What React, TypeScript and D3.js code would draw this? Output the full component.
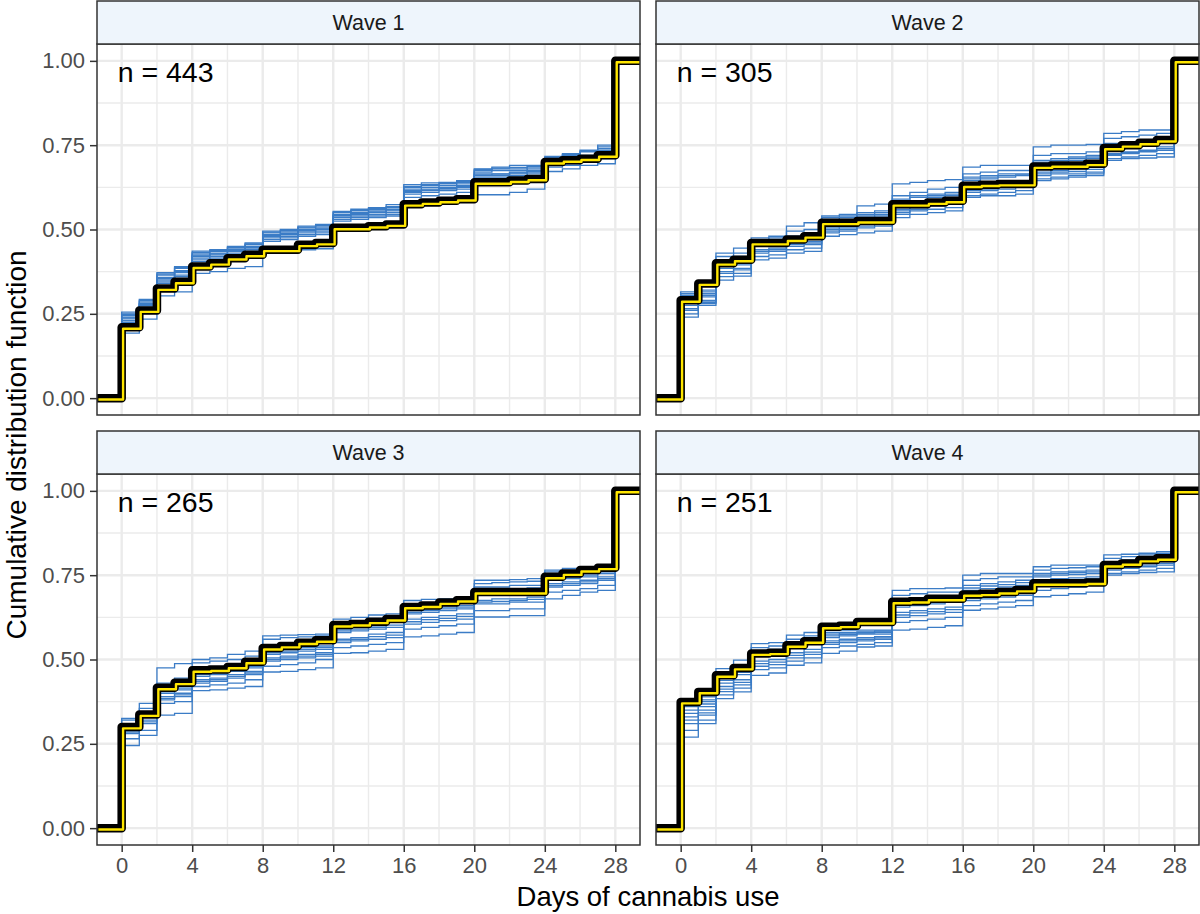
import React, { useEffect, useRef } from "react";
import * as d3 from "d3";

// Days on the x axis (0 - 28)
const days = [0, 1, 2, 3, 4, 5, 6, 7, 8, 9, 10, 11, 12, 13, 14, 15, 16, 17, 18, 19, 20, 21, 22, 23, 24, 25, 26, 27, 28];

const waveLabels = ["Wave 1", "Wave 2", "Wave 3", "Wave 4"];
const sampleLabels = ["n = 443", "n = 305", "n = 265", "n = 251"];

const xTicks = [0, 4, 8, 12, 16, 20, 24, 28];
const yTicks = [0, 0.25, 0.5, 0.75, 1];

// Observed ECDF per wave
const observedWave1 = [0.21, 0.26, 0.325, 0.345, 0.39, 0.4, 0.415, 0.425, 0.44, 0.44, 0.455, 0.46, 0.505, 0.505, 0.51, 0.515, 0.575, 0.58, 0.585, 0.59, 0.64, 0.64, 0.645, 0.65, 0.7, 0.705, 0.71, 0.72, 1];
const observedWave2 = [0.29, 0.34, 0.4, 0.41, 0.46, 0.46, 0.47, 0.48, 0.52, 0.52, 0.525, 0.525, 0.575, 0.575, 0.58, 0.585, 0.63, 0.633, 0.635, 0.635, 0.687, 0.69, 0.69, 0.695, 0.742, 0.75, 0.757, 0.765, 1];
const observedWave3 = [0.3, 0.337, 0.416, 0.431, 0.468, 0.47, 0.478, 0.493, 0.534, 0.54, 0.55, 0.557, 0.602, 0.605, 0.612, 0.62, 0.656, 0.66, 0.669, 0.676, 0.7, 0.7, 0.7, 0.7, 0.745, 0.755, 0.765, 0.772, 1];
const observedWave4 = [0.374, 0.404, 0.453, 0.475, 0.518, 0.52, 0.542, 0.554, 0.597, 0.6, 0.611, 0.611, 0.671, 0.673, 0.68, 0.68, 0.693, 0.695, 0.7, 0.706, 0.726, 0.726, 0.726, 0.728, 0.78, 0.785, 0.795, 0.8, 1];

// Imputed ECDFs per wave
const imputedWave1 = [
  [0.255, 0.293, 0.372, 0.39, 0.436, 0.44, 0.45, 0.46, 0.495, 0.5, 0.51, 0.515, 0.554, 0.56, 0.565, 0.574, 0.633, 0.638, 0.64, 0.645, 0.68, 0.685, 0.69, 0.69, 0.717, 0.725, 0.735, 0.75, 1],
  [0.25, 0.285, 0.365, 0.385, 0.43, 0.435, 0.445, 0.455, 0.49, 0.495, 0.505, 0.51, 0.55, 0.555, 0.56, 0.565, 0.625, 0.63, 0.635, 0.64, 0.675, 0.68, 0.68, 0.685, 0.71, 0.72, 0.73, 0.74, 1],
  [0.248, 0.29, 0.368, 0.388, 0.432, 0.437, 0.447, 0.457, 0.492, 0.497, 0.507, 0.512, 0.552, 0.557, 0.562, 0.568, 0.628, 0.633, 0.637, 0.642, 0.678, 0.682, 0.684, 0.687, 0.713, 0.722, 0.732, 0.745, 1],
  [0.245, 0.28, 0.358, 0.378, 0.425, 0.43, 0.44, 0.45, 0.485, 0.49, 0.5, 0.505, 0.545, 0.55, 0.555, 0.56, 0.62, 0.625, 0.63, 0.635, 0.67, 0.675, 0.675, 0.68, 0.705, 0.71, 0.72, 0.735, 1],
  [0.24, 0.275, 0.35, 0.372, 0.42, 0.425, 0.435, 0.445, 0.48, 0.485, 0.495, 0.5, 0.54, 0.545, 0.55, 0.555, 0.615, 0.62, 0.625, 0.63, 0.665, 0.665, 0.67, 0.675, 0.7, 0.705, 0.715, 0.73, 1],
  [0.238, 0.278, 0.354, 0.375, 0.422, 0.428, 0.438, 0.447, 0.482, 0.488, 0.497, 0.502, 0.542, 0.548, 0.552, 0.558, 0.612, 0.617, 0.622, 0.627, 0.662, 0.664, 0.668, 0.672, 0.698, 0.703, 0.712, 0.728, 1],
  [0.235, 0.27, 0.345, 0.365, 0.415, 0.42, 0.43, 0.44, 0.475, 0.48, 0.49, 0.495, 0.535, 0.54, 0.545, 0.55, 0.61, 0.615, 0.62, 0.625, 0.66, 0.66, 0.665, 0.67, 0.695, 0.7, 0.71, 0.725, 1],
  [0.23, 0.265, 0.34, 0.36, 0.41, 0.415, 0.425, 0.435, 0.47, 0.475, 0.485, 0.49, 0.53, 0.535, 0.54, 0.545, 0.605, 0.61, 0.615, 0.62, 0.655, 0.655, 0.66, 0.665, 0.69, 0.695, 0.705, 0.72, 1],
  [0.193, 0.234, 0.303, 0.315, 0.37, 0.375, 0.385, 0.39, 0.43, 0.435, 0.44, 0.443, 0.5, 0.505, 0.51, 0.52, 0.58, 0.585, 0.59, 0.6, 0.603, 0.603, 0.61, 0.62, 0.672, 0.68, 0.69, 0.695, 1],
  [0.225, 0.26, 0.34, 0.36, 0.405, 0.41, 0.42, 0.43, 0.465, 0.47, 0.48, 0.485, 0.525, 0.53, 0.535, 0.54, 0.595, 0.6, 0.605, 0.61, 0.645, 0.65, 0.655, 0.66, 0.685, 0.69, 0.7, 0.71, 1],
];
const imputedWave2 = [
  [0.31, 0.315, 0.43, 0.445, 0.475, 0.48, 0.51, 0.52, 0.54, 0.545, 0.57, 0.575, 0.635, 0.64, 0.645, 0.648, 0.685, 0.69, 0.69, 0.69, 0.745, 0.75, 0.75, 0.752, 0.785, 0.79, 0.795, 0.795, 1],
  [0.315, 0.32, 0.42, 0.43, 0.47, 0.475, 0.495, 0.5, 0.535, 0.54, 0.55, 0.555, 0.6, 0.61, 0.62, 0.625, 0.665, 0.67, 0.675, 0.675, 0.72, 0.725, 0.725, 0.73, 0.77, 0.775, 0.78, 0.785, 1],
  [0.305, 0.31, 0.41, 0.42, 0.46, 0.465, 0.48, 0.49, 0.53, 0.535, 0.545, 0.55, 0.59, 0.6, 0.605, 0.61, 0.655, 0.66, 0.665, 0.665, 0.705, 0.71, 0.715, 0.72, 0.755, 0.76, 0.765, 0.77, 1],
  [0.3, 0.305, 0.405, 0.415, 0.455, 0.46, 0.475, 0.482, 0.525, 0.53, 0.54, 0.545, 0.585, 0.595, 0.6, 0.605, 0.65, 0.655, 0.66, 0.662, 0.7, 0.705, 0.71, 0.715, 0.75, 0.755, 0.76, 0.765, 1],
  [0.29, 0.3, 0.4, 0.41, 0.45, 0.455, 0.47, 0.475, 0.52, 0.525, 0.535, 0.54, 0.575, 0.585, 0.595, 0.6, 0.645, 0.65, 0.655, 0.66, 0.695, 0.7, 0.705, 0.71, 0.74, 0.745, 0.75, 0.76, 1],
  [0.275, 0.29, 0.385, 0.395, 0.44, 0.445, 0.46, 0.465, 0.505, 0.51, 0.52, 0.525, 0.56, 0.57, 0.58, 0.585, 0.62, 0.625, 0.63, 0.635, 0.67, 0.675, 0.68, 0.685, 0.725, 0.73, 0.735, 0.745, 1],
  [0.265, 0.283, 0.375, 0.385, 0.435, 0.44, 0.455, 0.46, 0.5, 0.505, 0.515, 0.52, 0.555, 0.565, 0.575, 0.58, 0.615, 0.62, 0.625, 0.63, 0.665, 0.67, 0.672, 0.678, 0.722, 0.728, 0.732, 0.74, 1],
  [0.26, 0.285, 0.37, 0.38, 0.43, 0.435, 0.45, 0.455, 0.495, 0.5, 0.51, 0.515, 0.55, 0.56, 0.57, 0.575, 0.61, 0.615, 0.62, 0.625, 0.66, 0.665, 0.665, 0.67, 0.72, 0.725, 0.73, 0.735, 1],
  [0.25, 0.28, 0.36, 0.37, 0.42, 0.425, 0.44, 0.445, 0.49, 0.495, 0.505, 0.51, 0.545, 0.555, 0.56, 0.565, 0.6, 0.605, 0.61, 0.615, 0.65, 0.655, 0.66, 0.665, 0.71, 0.715, 0.72, 0.725, 1],
  [0.24, 0.275, 0.35, 0.362, 0.41, 0.415, 0.43, 0.435, 0.48, 0.485, 0.49, 0.495, 0.535, 0.545, 0.55, 0.555, 0.595, 0.6, 0.6, 0.605, 0.645, 0.65, 0.655, 0.66, 0.705, 0.71, 0.712, 0.715, 1],
];
const imputedWave3 = [
  [0.325, 0.37, 0.475, 0.488, 0.5, 0.505, 0.515, 0.525, 0.57, 0.572, 0.574, 0.575, 0.62, 0.625, 0.632, 0.635, 0.675, 0.678, 0.68, 0.685, 0.735, 0.735, 0.737, 0.74, 0.765, 0.77, 0.775, 0.78, 1],
  [0.32, 0.355, 0.43, 0.445, 0.49, 0.495, 0.5, 0.51, 0.56, 0.565, 0.567, 0.57, 0.612, 0.615, 0.622, 0.625, 0.665, 0.668, 0.675, 0.68, 0.725, 0.728, 0.73, 0.732, 0.76, 0.765, 0.77, 0.775, 1],
  [0.31, 0.34, 0.41, 0.42, 0.46, 0.465, 0.475, 0.485, 0.525, 0.53, 0.535, 0.54, 0.59, 0.595, 0.6, 0.61, 0.645, 0.65, 0.655, 0.66, 0.715, 0.715, 0.72, 0.72, 0.745, 0.75, 0.755, 0.765, 1],
  [0.305, 0.335, 0.405, 0.415, 0.455, 0.46, 0.47, 0.48, 0.52, 0.525, 0.53, 0.535, 0.585, 0.59, 0.595, 0.602, 0.64, 0.645, 0.65, 0.655, 0.7, 0.705, 0.71, 0.712, 0.74, 0.745, 0.75, 0.76, 1],
  [0.3, 0.33, 0.4, 0.41, 0.45, 0.455, 0.465, 0.475, 0.515, 0.52, 0.525, 0.53, 0.58, 0.585, 0.59, 0.595, 0.635, 0.64, 0.645, 0.65, 0.69, 0.695, 0.7, 0.705, 0.735, 0.74, 0.745, 0.755, 1],
  [0.29, 0.32, 0.39, 0.4, 0.44, 0.445, 0.455, 0.465, 0.505, 0.51, 0.515, 0.52, 0.56, 0.565, 0.575, 0.58, 0.62, 0.625, 0.63, 0.635, 0.675, 0.68, 0.68, 0.685, 0.725, 0.73, 0.735, 0.745, 1],
  [0.285, 0.315, 0.385, 0.395, 0.435, 0.44, 0.45, 0.46, 0.5, 0.505, 0.51, 0.515, 0.555, 0.56, 0.568, 0.572, 0.612, 0.618, 0.622, 0.628, 0.67, 0.672, 0.675, 0.678, 0.72, 0.725, 0.73, 0.74, 1],
  [0.28, 0.31, 0.38, 0.39, 0.43, 0.435, 0.445, 0.455, 0.495, 0.5, 0.505, 0.51, 0.55, 0.555, 0.56, 0.565, 0.605, 0.61, 0.615, 0.62, 0.665, 0.665, 0.67, 0.67, 0.715, 0.72, 0.725, 0.735, 1],
  [0.265, 0.29, 0.37, 0.375, 0.42, 0.425, 0.43, 0.44, 0.48, 0.485, 0.49, 0.5, 0.535, 0.54, 0.545, 0.55, 0.59, 0.595, 0.6, 0.605, 0.645, 0.645, 0.65, 0.65, 0.7, 0.705, 0.71, 0.72, 1],
  [0.245, 0.275, 0.335, 0.34, 0.408, 0.41, 0.415, 0.42, 0.463, 0.465, 0.47, 0.475, 0.518, 0.52, 0.525, 0.53, 0.567, 0.57, 0.575, 0.58, 0.626, 0.626, 0.63, 0.63, 0.68, 0.69, 0.7, 0.705, 1],
];
const imputedWave4 = [
  [0.384, 0.389, 0.473, 0.498, 0.547, 0.55, 0.572, 0.58, 0.587, 0.587, 0.587, 0.587, 0.705, 0.71, 0.71, 0.712, 0.75, 0.755, 0.755, 0.755, 0.775, 0.78, 0.78, 0.78, 0.81, 0.812, 0.815, 0.82, 1],
  [0.37, 0.38, 0.46, 0.485, 0.535, 0.54, 0.56, 0.57, 0.58, 0.58, 0.582, 0.585, 0.69, 0.695, 0.7, 0.7, 0.735, 0.74, 0.745, 0.745, 0.765, 0.77, 0.772, 0.775, 0.8, 0.805, 0.81, 0.815, 1],
  [0.36, 0.375, 0.445, 0.47, 0.525, 0.53, 0.55, 0.56, 0.575, 0.578, 0.58, 0.582, 0.67, 0.675, 0.68, 0.685, 0.72, 0.725, 0.73, 0.735, 0.755, 0.76, 0.762, 0.765, 0.79, 0.795, 0.8, 0.805, 1],
  [0.35, 0.368, 0.438, 0.462, 0.518, 0.522, 0.542, 0.552, 0.57, 0.574, 0.578, 0.58, 0.662, 0.668, 0.672, 0.678, 0.712, 0.718, 0.722, 0.728, 0.75, 0.755, 0.758, 0.76, 0.788, 0.792, 0.798, 0.802, 1],
  [0.34, 0.36, 0.43, 0.455, 0.51, 0.515, 0.535, 0.545, 0.565, 0.57, 0.575, 0.575, 0.655, 0.66, 0.665, 0.67, 0.705, 0.71, 0.715, 0.72, 0.745, 0.75, 0.752, 0.755, 0.785, 0.79, 0.795, 0.8, 1],
  [0.33, 0.35, 0.42, 0.44, 0.495, 0.5, 0.52, 0.53, 0.555, 0.56, 0.565, 0.568, 0.64, 0.645, 0.65, 0.655, 0.69, 0.695, 0.7, 0.705, 0.735, 0.74, 0.742, 0.745, 0.775, 0.78, 0.785, 0.79, 1],
  [0.32, 0.342, 0.412, 0.432, 0.488, 0.492, 0.512, 0.522, 0.55, 0.555, 0.56, 0.564, 0.632, 0.638, 0.642, 0.648, 0.682, 0.688, 0.692, 0.698, 0.728, 0.732, 0.736, 0.74, 0.77, 0.775, 0.78, 0.785, 1],
  [0.31, 0.335, 0.405, 0.425, 0.48, 0.485, 0.505, 0.515, 0.545, 0.55, 0.555, 0.56, 0.625, 0.63, 0.635, 0.64, 0.675, 0.68, 0.685, 0.69, 0.72, 0.725, 0.73, 0.735, 0.765, 0.77, 0.775, 0.78, 1],
  [0.29, 0.32, 0.395, 0.415, 0.47, 0.475, 0.495, 0.505, 0.535, 0.54, 0.545, 0.55, 0.61, 0.615, 0.62, 0.625, 0.66, 0.665, 0.67, 0.675, 0.705, 0.71, 0.715, 0.72, 0.755, 0.76, 0.765, 0.77, 1],
  [0.27, 0.31, 0.384, 0.404, 0.453, 0.46, 0.483, 0.49, 0.518, 0.525, 0.537, 0.54, 0.587, 0.59, 0.595, 0.6, 0.646, 0.65, 0.655, 0.66, 0.686, 0.69, 0.695, 0.7, 0.75, 0.755, 0.758, 0.76, 1],
];

const observed = [observedWave1, observedWave2, observedWave3, observedWave4];
const imputed = [imputedWave1, imputedWave2, imputedWave3, imputedWave4];

const FONT = "'Liberation Sans', Arial, Helvetica, sans-serif";

const App: React.FC = () => {
  const svgRef = useRef<SVGSVGElement>(null);

  useEffect(() => {
    if (!svgRef.current) return;
    const svg = d3.select(svgRef.current);
    svg.selectAll("*").remove();

    const panelW = 543;
    const panelH = 371;
    const stripH = 43;
    const colX = [97, 656];
    const rowY = [44, 474];

    const x = d3.scaleLinear().domain([-1.4, 29.4]).range([0, panelW]);
    const y = d3.scaleLinear().domain([-0.05, 1.05]).range([panelH, 0]);

    const step = d3.line<[number, number]>()
      .x(d => x(d[0]))
      .y(d => y(d[1]))
      .curve(d3.curveStepAfter);

    const toPoints = (vals: number[]): [number, number][] => [
      [-1.4, 0],
      ...days.map((d, i) => [d, vals[i]] as [number, number]),
      [29.4, 1],
    ];

    const minorX = d3.range(2, 28, 4);
    const minorY = [0.125, 0.375, 0.625, 0.875];

    svg.append("rect").attr("width", 1200).attr("height", 914).attr("fill", "#ffffff");

    svg.append("defs").append("clipPath")
      .attr("id", "panel-clip")
      .append("rect")
      .attr("width", panelW)
      .attr("height", panelH);

    waveLabels.forEach((label, i) => {
      const col = i % 2;
      const row = Math.floor(i / 2);
      const g = svg.append("g").attr("transform", `translate(${colX[col]},${rowY[row]})`);

      g.append("rect").attr("width", panelW).attr("height", panelH).attr("fill", "#ffffff");

      // minor grid
      g.selectAll(".minor-x").data(minorX).enter().append("line")
        .attr("x1", d => x(d)).attr("x2", d => x(d))
        .attr("y1", 0).attr("y2", panelH)
        .attr("stroke", "#EBEBEB").attr("stroke-width", 1.4);
      g.selectAll(".minor-y").data(minorY).enter().append("line")
        .attr("x1", 0).attr("x2", panelW)
        .attr("y1", d => y(d)).attr("y2", d => y(d))
        .attr("stroke", "#EBEBEB").attr("stroke-width", 1.4);

      // major grid
      g.selectAll(".major-x").data(xTicks).enter().append("line")
        .attr("x1", d => x(d)).attr("x2", d => x(d))
        .attr("y1", 0).attr("y2", panelH)
        .attr("stroke", "#EBEBEB").attr("stroke-width", 2.4);
      g.selectAll(".major-y").data(yTicks).enter().append("line")
        .attr("x1", 0).attr("x2", panelW)
        .attr("y1", d => y(d)).attr("y2", d => y(d))
        .attr("stroke", "#EBEBEB").attr("stroke-width", 2.4);

      const lines = g.append("g").attr("clip-path", "url(#panel-clip)");

      lines.selectAll(".imp").data(imputed[i]).enter().append("path")
        .attr("d", d => step(toPoints(d)))
        .attr("fill", "none")
        .attr("stroke", "#3B7CC6")
        .attr("stroke-width", 1.3);

      lines.append("path")
        .attr("d", step(toPoints(observed[i])))
        .attr("fill", "none")
        .attr("stroke", "#000000")
        .attr("stroke-width", 8.5)
        .attr("stroke-linejoin", "round");

      lines.append("path")
        .attr("d", step(toPoints(observed[i])))
        .attr("transform", "translate(1.4,1.4)")
        .attr("fill", "none")
        .attr("stroke", "#FFE600")
        .attr("stroke-width", 2.4)
        .attr("stroke-linejoin", "round");

      g.append("text")
        .attr("x", x(0) - 4)
        .attr("y", y(1) + 21)
        .attr("font-family", FONT)
        .attr("font-size", 28.5)
        .attr("fill", "#000000")
        .text(sampleLabels[i]);

      g.append("rect")
        .attr("width", panelW).attr("height", panelH)
        .attr("fill", "none").attr("stroke", "#333333").attr("stroke-width", 1.5);

      // strip
      g.append("rect")
        .attr("y", -stripH).attr("width", panelW).attr("height", stripH)
        .attr("fill", "#EEF5FC").attr("stroke", "#333333").attr("stroke-width", 1.5);
      g.append("text")
        .attr("x", panelW / 2).attr("y", -stripH / 2)
        .attr("text-anchor", "middle").attr("dominant-baseline", "central")
        .attr("font-family", FONT).attr("font-size", 21.5)
        .attr("fill", "#1A1A1A")
        .text(label);

      // y axis on left column
      if (col === 0) {
        const ax = g.append("g")
          .call(d3.axisLeft(y).tickValues(yTicks).tickFormat(d3.format(".2f")).tickSize(7).tickPadding(5));
        ax.select(".domain").remove();
        ax.selectAll("line").attr("stroke", "#333333").attr("stroke-width", 1.5);
        ax.selectAll("text").attr("fill", "#4D4D4D").attr("font-size", 22).attr("font-family", FONT);
      }
      // x axis on bottom row
      if (row === 1) {
        const ax = g.append("g")
          .attr("transform", `translate(0,${panelH})`)
          .call(d3.axisBottom(x).tickValues(xTicks).tickFormat(d3.format("d")).tickSize(7).tickPadding(5));
        ax.select(".domain").remove();
        ax.selectAll("line").attr("stroke", "#333333").attr("stroke-width", 1.5);
        ax.selectAll("text").attr("fill", "#4D4D4D").attr("font-size", 22).attr("font-family", FONT);
      }
    });

    // axis titles
    svg.append("text")
      .attr("transform", `translate(26,445) rotate(-90)`)
      .attr("text-anchor", "middle")
      .attr("font-family", FONT).attr("font-size", 28)
      .attr("fill", "#000000")
      .text("Cumulative distribution function");

    svg.append("text")
      .attr("x", (colX[0] + colX[1] + panelW) / 2)
      .attr("y", 906)
      .attr("text-anchor", "middle")
      .attr("font-family", FONT).attr("font-size", 27.5)
      .attr("fill", "#000000")
      .text("Days of cannabis use");
  }, []);

  return (
    <svg
      ref={svgRef}
      width={1200}
      height={914}
      style={{ position: "absolute", left: 0, top: 0 }}
    />
  );
};

export default App;
